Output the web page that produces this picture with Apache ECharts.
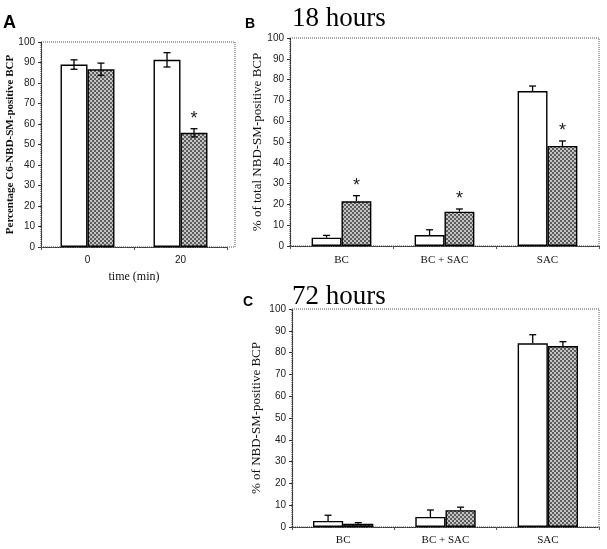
<!DOCTYPE html>
<html><head><meta charset="utf-8">
<script src="https://cdn.jsdelivr.net/npm/echarts@6/dist/echarts.min.js"></script>
<style>html,body{margin:0;padding:0;background:#fff}#c{width:607px;height:549px}</style>
</head><body><div id="c"></div>
<script>
// ---- Data ----
const catA = ['0', '20'];
const whiteA = [89.0, 91.3];
const whiteErrA = [2.3, 3.5];
const grayA = [86.7, 55.7];
const grayErrA = [3.0, 2.0];
const sigA = [false, true];

const catB = ['BC', 'BC + SAC', 'SAC'];
const whiteB = [4.0, 5.3, 74.5];
const whiteErrB = [1.1, 2.5, 2.4];
const grayB = [21.5, 16.5, 48.1];
const grayErrB = [2.7, 1.3, 2.4];
const sigB = [true, true, true];

const catC = ['BC', 'BC + SAC', 'SAC'];
const whiteC = [2.8, 4.6, 84.3];
const whiteErrC = [2.6, 3.2, 3.9];
const grayC = [1.5, 7.7, 83.0];
const grayErrC = [0.5, 1.4, 2.0];
const sigC = [false, false, false];

// ---- Style helpers ----
function makePattern() {
  const cv = document.createElement('canvas');
  cv.width = 4; cv.height = 4;
  const ctx = cv.getContext('2d');
  ctx.fillStyle = '#c4c4c4'; ctx.fillRect(0, 0, 4, 4);
  ctx.fillStyle = '#5c5c5c';
  ctx.fillRect(0, 0, 2, 2); ctx.fillRect(2, 2, 2, 2);
  return cv;
}
const pat = { image: makePattern(), repeat: 'repeat' };
const serif = 'Liberation Serif';
const sans = 'Liberation Sans';

const grids = [
  { left: 41, right: 380, top: 42, bottom: 302, show: false },
  { left: 290, right: 8, top: 38, bottom: 303 },
  { left: 292, right: 8, top: 309, bottom: 22 },
  { left: 41, right: 372, top: 42, bottom: 302 }
];
const gaps = [0.42, 0.42, 0.41];

function xAxis(i, cats, fontFam, fs, name, margin) {
  return {
    type: 'category', gridIndex: i, data: cats,
    name: name || '', nameLocation: 'middle', nameGap: 24,
    nameTextStyle: { fontFamily: serif, fontSize: 12, color: '#111' },
    axisLine: { lineStyle: { color: '#333', type: 'dotted', width: 1.2 } },
    axisTick: { show: true, length: 3, lineStyle: { color: '#555' } },
    axisLabel: { fontFamily: fontFam, fontSize: fs, color: '#111', margin: margin }
  };
}
function yAxis(i, name, nameGap, nameFam, nameSize, nameWeight) {
  return {
    type: 'value', gridIndex: i, min: 0, max: 100, interval: 10,
    name: name, nameLocation: 'middle', nameGap: nameGap, nameMoveOverlap: false,
    nameTextStyle: { fontFamily: nameFam, fontSize: nameSize, color: '#111', fontWeight: nameWeight },
    axisLine: { show: true, lineStyle: { color: '#333', type: 'dotted', width: 1.2 } },
    axisTick: { show: true, length: 3, lineStyle: { color: '#333' } },
    splitLine: { show: false },
    axisLabel: { fontFamily: sans, fontSize: 10, color: '#222', margin: 6 }
  };
}

function barSeries(i, vals, color) {
  return {
    type: 'bar', xAxisIndex: i, yAxisIndex: i, data: vals,
    barGap: '0%', barCategoryGap: (gaps[i] * 100) + '%',
    itemStyle: { color: color, borderColor: '#000', borderWidth: 1.4 },
    animation: false, z: 2
  };
}

function errSeries(i, wVals, wErr, gVals, gErr, both, sig) {
  const data = [];
  wVals.forEach((v, k) => data.push([k, v, wErr[k], 0, 0]));
  gVals.forEach((v, k) => data.push([k, v, gErr[k], 1, sig[k] ? 1 : 0]));
  return {
    type: 'custom', xAxisIndex: i, yAxisIndex: i, data: data, z: 5, animation: false,
    renderItem: function (params, api) {
      const k = api.value(0), v = api.value(1), e = api.value(2), side = api.value(3), s = api.value(4);
      const band = api.size([1, 0])[0];
      const bw = band * (1 - gaps[i]) / 2;
      const cx = api.coord([k, 0])[0] + (side === 0 ? -bw / 2 : bw / 2);
      const top = api.coord([k, v + e])[1];
      const bot = both ? api.coord([k, v - e])[1] : api.coord([k, v])[1];
      const cap = 3.5;
      const ls = { stroke: '#000', lineWidth: 1.3 };
      const children = [
        { type: 'line', shape: { x1: cx, y1: top, x2: cx, y2: bot }, style: ls },
        { type: 'line', shape: { x1: cx - cap, y1: top, x2: cx + cap, y2: top }, style: ls }
      ];
      if (both) children.push({ type: 'line', shape: { x1: cx - cap, y1: bot, x2: cx + cap, y2: bot }, style: ls });
      if (s) children.push({ type: 'text', style: { text: '*', x: cx, y: top - 1, align: 'center', verticalAlign: 'bottom',
        font: '18px ' + sans, fill: '#222' } });
      return { type: 'group', children: children };
    }
  };
}

const chart = echarts.init(document.getElementById('c'), null, { renderer: 'canvas' });
chart.setOption({
  backgroundColor: '#fff',
  animation: false,
  title: [
    { text: 'A', left: 3, top: 14, padding: 0, textStyle: { fontFamily: sans, fontSize: 18, fontWeight: 'bold', color: '#000' } },
    { text: 'B', left: 245, top: 17, padding: 0, textStyle: { fontFamily: sans, fontSize: 14, fontWeight: 'bold', color: '#000' } },
    { text: '18 hours', left: 292, top: 5, padding: 0, textStyle: { fontFamily: serif, fontSize: 27, fontWeight: 'normal', color: '#000' } },
    { text: 'C', left: 243, top: 295, padding: 0, textStyle: { fontFamily: sans, fontSize: 14, fontWeight: 'bold', color: '#000' } },
    { text: '72 hours', left: 292, top: 283, padding: 0, textStyle: { fontFamily: serif, fontSize: 27, fontWeight: 'normal', color: '#000' } }
  ],
  grid: grids.map(g => Object.assign({ show: true, borderColor: '#555', borderWidth: 1, borderType: 'dotted', backgroundColor: 'transparent' }, g)),
  xAxis: [
    xAxis(0, catA, sans, 10, 'time (min)', 8),
    xAxis(1, catB, serif, 11, '', 9),
    xAxis(2, catC, serif, 11, '', 8)
  ],
  yAxis: [
    yAxis(0, 'Percentage C6-NBD-SM-positive BCP', 25, serif, 11, 'bold'),
    yAxis(1, '% of total NBD-SM-positive BCP', 26, serif, 13, 'normal'),
    yAxis(2, '% of NBD-SM-positive BCP', 29, serif, 13, 'normal')
  ],
  series: [
    barSeries(0, whiteA, '#fff'), barSeries(0, grayA, pat), errSeries(0, whiteA, whiteErrA, grayA, grayErrA, true, sigA),
    barSeries(1, whiteB, '#fff'), barSeries(1, grayB, pat), errSeries(1, whiteB, whiteErrB, grayB, grayErrB, false, sigB),
    barSeries(2, whiteC, '#fff'), barSeries(2, grayC, pat), errSeries(2, whiteC, whiteErrC, grayC, grayErrC, false, sigC)
  ]
});
</script></body></html>
